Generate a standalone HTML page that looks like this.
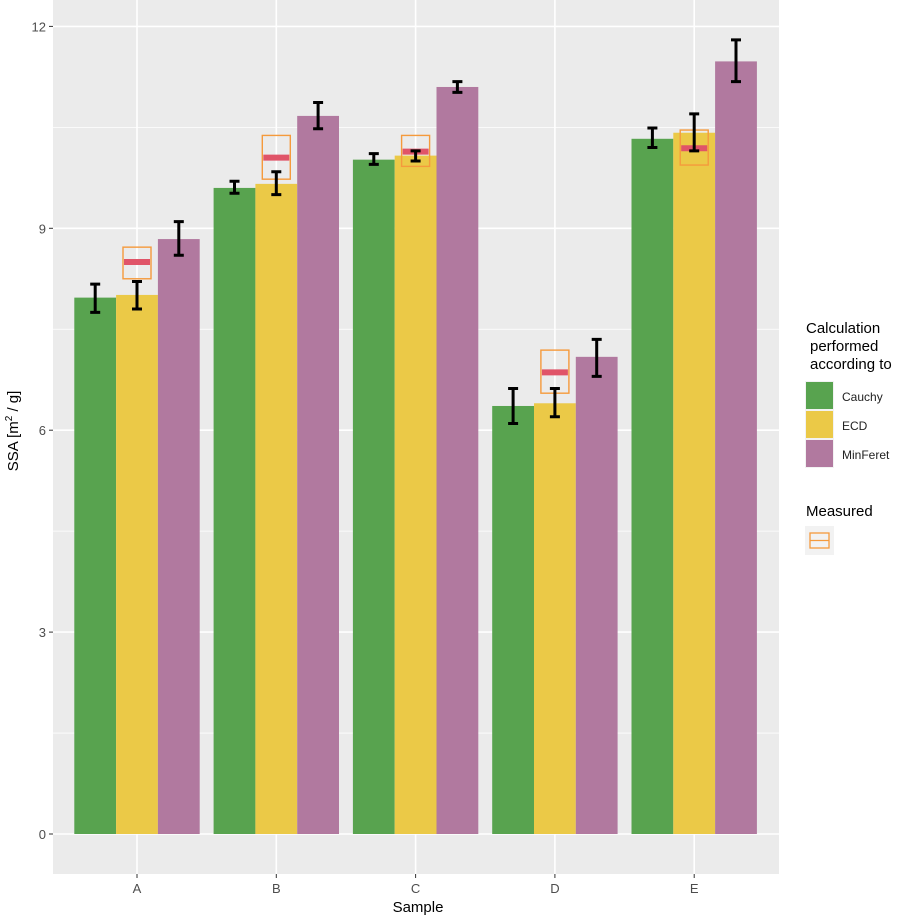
<!DOCTYPE html>
<html><head><meta charset="utf-8"><style>
body{margin:0;background:#fff;font-family:"Liberation Sans",Arial,sans-serif}
svg text{font-family:"Liberation Sans",Arial,sans-serif}
</style></head><body>
<svg id="chart" width="908" height="918">
<rect x="53" y="0" width="726" height="874" fill="#ebebeb"/>
<g id="grid"></g><g id="bars"></g><g id="axes"></g>
<text x="418" y="912" text-anchor="middle" font-size="15" fill="#000">Sample</text>
<text transform="translate(18,431) rotate(-90)" text-anchor="middle" font-size="15" fill="#000">SSA   [m<tspan dy="-6" font-size="10">2</tspan><tspan dy="6"> / g]</tspan></text>
<g>
<text x="806" y="333" font-size="15">Calculation</text>
<text x="810" y="351" font-size="15">performed</text>
<text x="810" y="369" font-size="15">according to</text>
<rect x="805" y="381" width="29" height="29" fill="#f2f2f2"/><rect x="806" y="382" width="27" height="27" fill="#58a34f"/>
<text x="842" y="401" font-size="12" fill="#222">Cauchy</text>
<rect x="805" y="410" width="29" height="29" fill="#f2f2f2"/><rect x="806" y="411" width="27" height="27" fill="#ebc947"/>
<text x="842" y="430" font-size="12" fill="#222">ECD</text>
<rect x="805" y="439" width="29" height="29" fill="#f2f2f2"/><rect x="806" y="440" width="27" height="27" fill="#b1799f"/>
<text x="842" y="459" font-size="12" fill="#222">MinFeret</text>
<text x="806" y="516" font-size="15">Measured</text>
<rect x="805" y="526" width="29" height="29" fill="#f2f2f2"/>
<rect x="810" y="533" width="19" height="15" fill="none" stroke="#f59a3c" stroke-width="1.3"/>
<line x1="810" y1="540.5" x2="829" y2="540.5" stroke="#f59a3c" stroke-width="1.3"/>
</g>
</svg>
<script>
const categories=["A","B","C","D","E"];
const seriesNames=["Cauchy","ECD","MinFeret"];
const cauchy=[7.97,9.6,10.02,6.36,10.33];
const cauchyLo=[7.75,9.52,9.95,6.1,10.2];
const cauchyHi=[8.17,9.7,10.11,6.62,10.49];
const ecd=[8.01,9.66,10.08,6.4,10.42];
const ecdLo=[7.8,9.5,10.0,6.2,10.15];
const ecdHi=[8.21,9.84,10.15,6.62,10.7];
const minferet=[8.84,10.67,11.1,7.09,11.48];
const minferetLo=[8.6,10.48,11.02,6.8,11.18];
const minferetHi=[9.1,10.87,11.18,7.35,11.8];
const measured=[8.5,10.05,10.14,6.86,10.19];
const measuredLo=[8.25,9.73,9.92,6.55,9.94];
const measuredHi=[8.72,10.38,10.38,7.19,10.46];
const yTicks=[0,3,6,9,12];
const colors=["#58a34f","#ebc947","#b1799f"];
const NS="http://www.w3.org/2000/svg";
const y=v=>834-v*67.3;
const xc=i=>137+i*139.3;
const bw=41.8;
function mk(tag,attrs,parent){const e=document.createElementNS(NS,tag);for(const k in attrs)e.setAttribute(k,attrs[k]);document.getElementById(parent).appendChild(e);return e;}
for(let k=0;k<yTicks.length;k++){
 const t=yTicks[k];
 if(k<yTicks.length-1){const gm=mk("line",{x1:53,x2:779,y1:y(t+1.5),y2:y(t+1.5),stroke:"#fff","stroke-width":0.8},"grid");
 
 }
 const g=mk("line",{x1:53,x2:779,y1:y(t),y2:y(t),stroke:"#fff","stroke-width":1.6},"grid");
 
 
 const tk=mk("line",{x1:49,x2:53,y1:y(t),y2:y(t),stroke:"#333","stroke-width":1},"axes");
 
 
 const tl=mk("text",{x:46,y:y(t)+5,"text-anchor":"end","font-size":13,fill:"#4d4d4d"},"axes");
 tl.textContent=t;
 
 
}
const vals=[cauchy,ecd,minferet],los=[cauchyLo,ecdLo,minferetLo],his=[cauchyHi,ecdHi,minferetHi];
categories.forEach((c,i)=>{
 const g=mk("line",{x1:xc(i),x2:xc(i),y1:0,y2:874,stroke:"#fff","stroke-width":1.6},"grid");
 
 
 const tk=mk("line",{x1:xc(i),x2:xc(i),y1:874,y2:878,stroke:"#333"},"axes");
 
 
 const tl=mk("text",{x:xc(i),y:893,"text-anchor":"middle","font-size":13,fill:"#4d4d4d"},"axes");
 tl.textContent=c;
 
 
});
categories.forEach((c,i)=>{
 for(let s=0;s<3;s++){
  const x0=xc(i)+(s-1.5)*bw, v=vals[s][i];
  const r=mk("rect",{x:x0,y:y(v),width:bw,height:y(0)-y(v),fill:colors[s]},"bars");
  
  
 }
 const mx=xc(i);
 const mb=mk("rect",{x:mx-14,y:y(measuredHi[i]),width:28,height:y(measuredLo[i])-y(measuredHi[i]),fill:"none",stroke:"#f59a3c","stroke-width":1.4},"bars");
 
 
 const ml=mk("line",{x1:mx-13,x2:mx+13,y1:y(measured[i]),y2:y(measured[i]),stroke:"#e05468","stroke-width":6},"bars");
 
 
 for(let s=0;s<3;s++){
  const cx=xc(i)+(s-1)*bw, lo=los[s][i], hi=his[s][i];
  const eb=mk("path",{d:`M${cx},${y(lo)}V${y(hi)}M${cx-5},${y(lo)}H${cx+5}M${cx-5},${y(hi)}H${cx+5}`,stroke:"#000","stroke-width":3,fill:"none"},"bars");
  
  
 }
});
</script>
</body></html>
